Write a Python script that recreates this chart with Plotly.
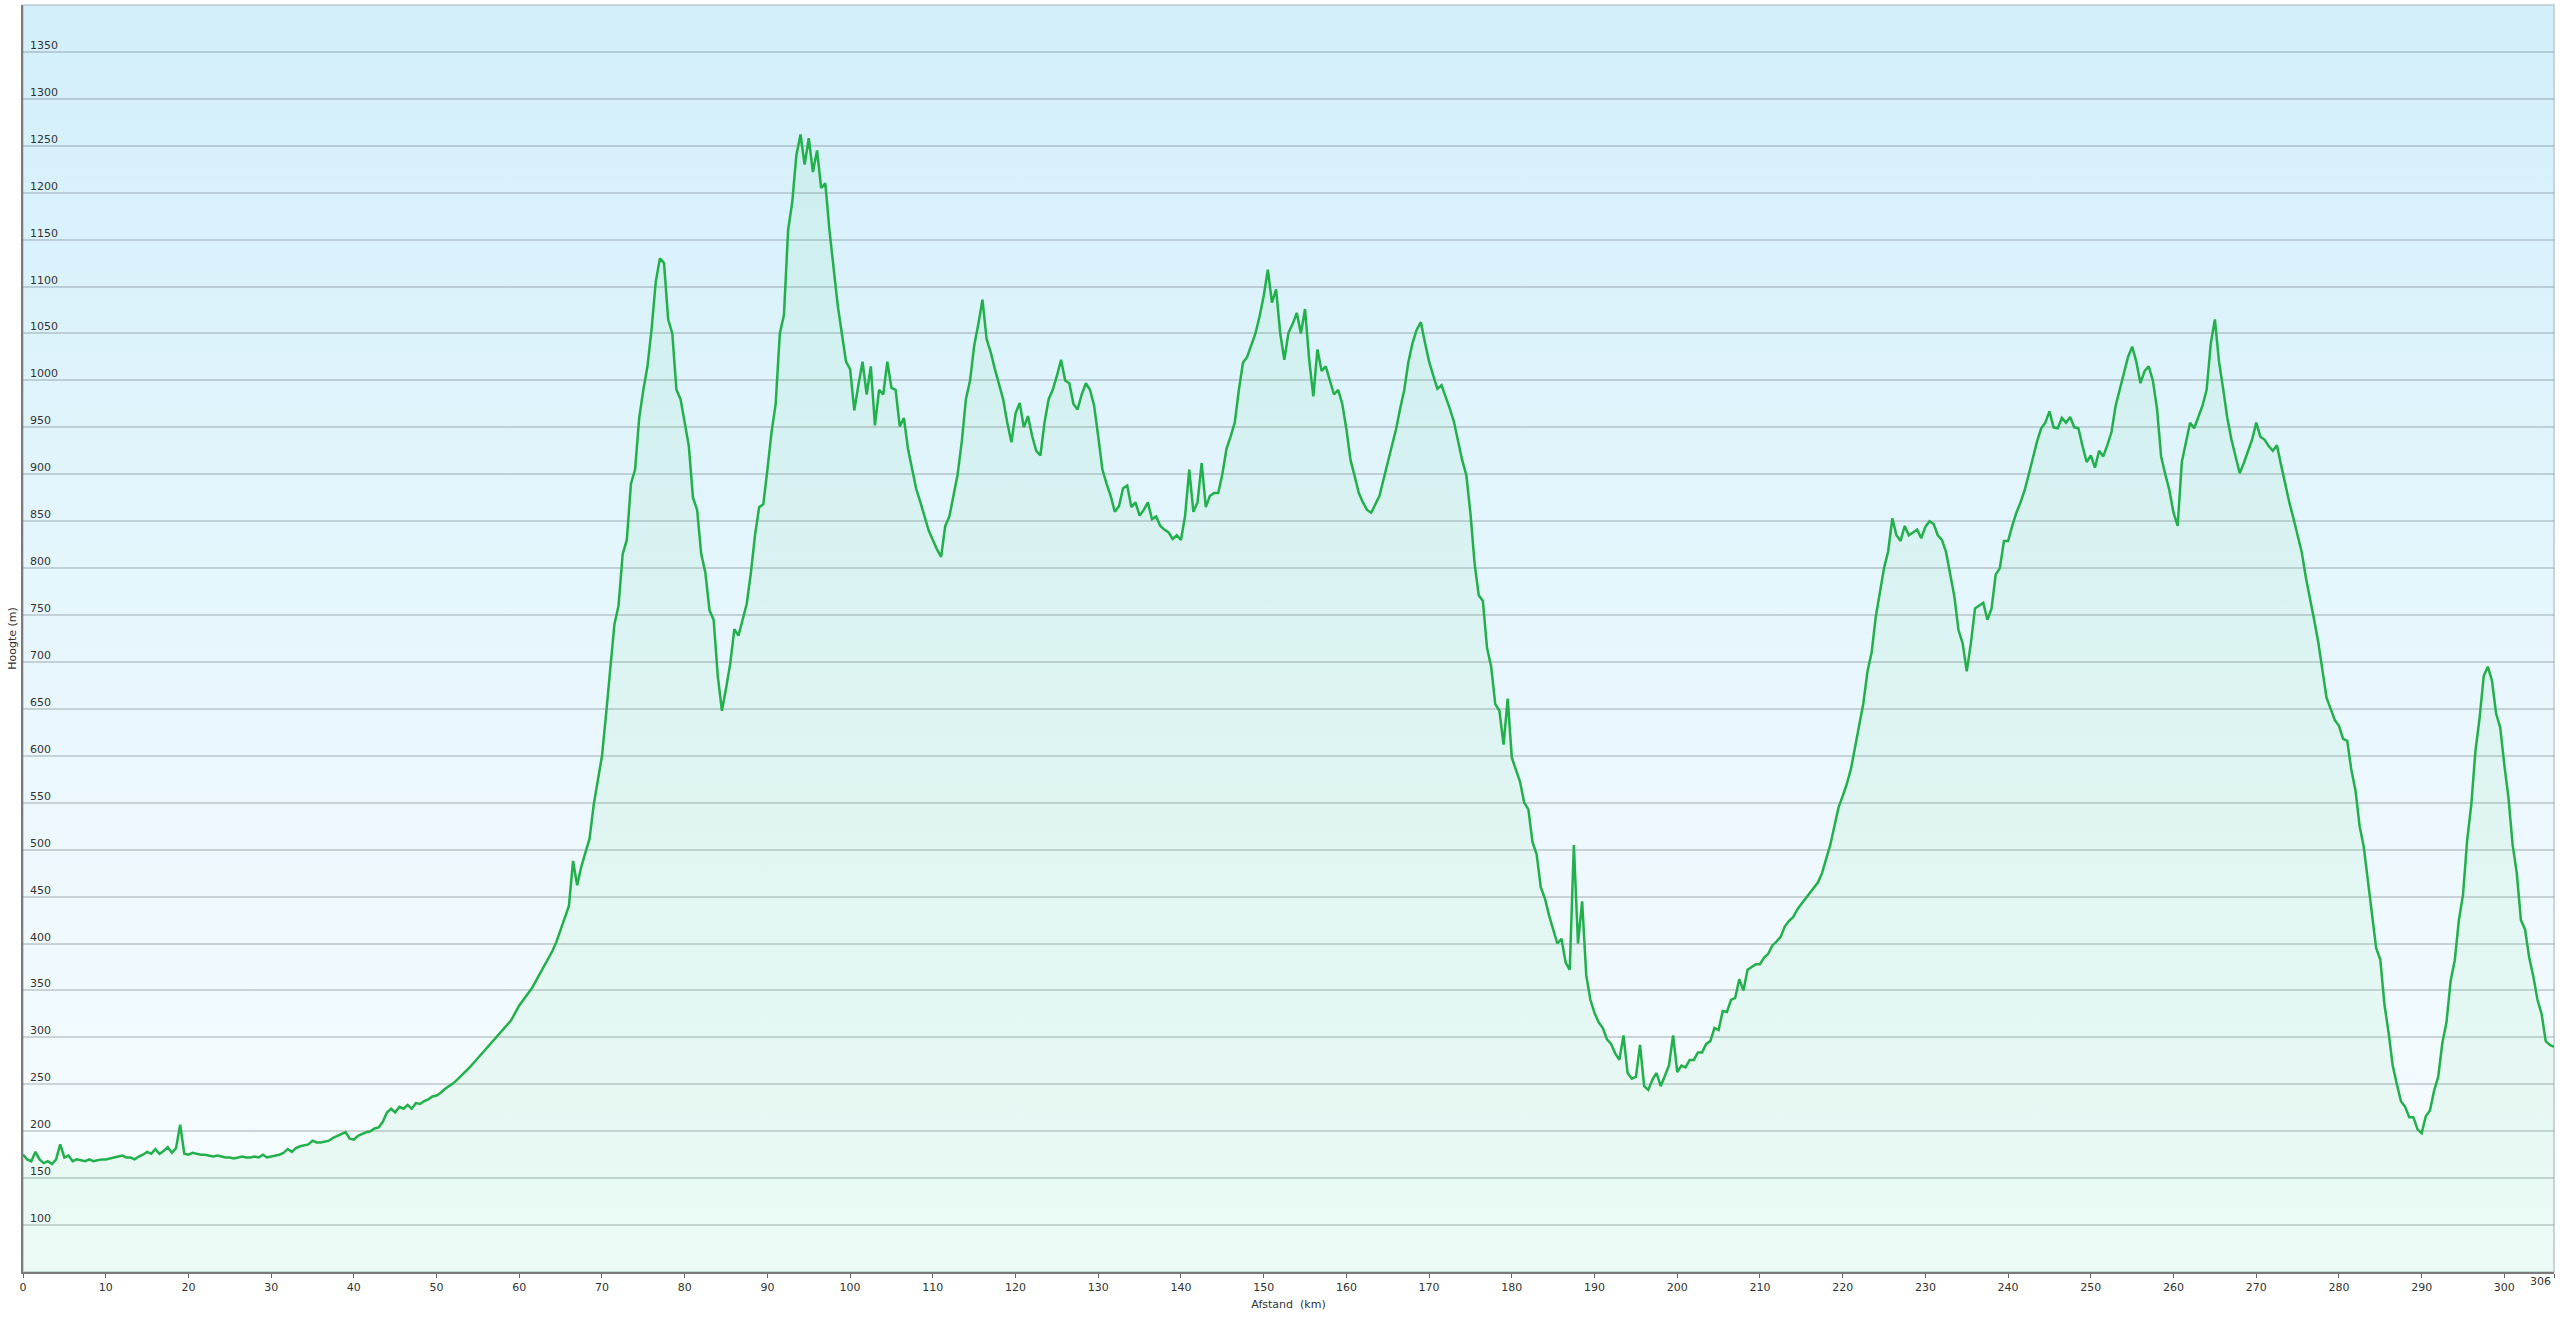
import base64

import numpy as np
import plotly.graph_objects as go

# hoogteprofiel, een waarde per 0,5 km (m)
hoogte_000_050 = [
    175, 170, 168, 178, 170, 166, 168, 165, 170, 186, 172, 174, 168, 170, 169, 168, 170, 168, 169, 170,
    170, 171, 172, 173, 174, 172, 172, 170, 173, 175, 178, 176, 181, 176, 179, 183, 177, 182, 207, 176,
    175, 177, 176, 175, 175, 174, 173, 174, 173, 172, 172, 171, 172, 173, 172, 172, 173, 172, 175, 172,
    173, 174, 175, 177, 181, 178, 182, 184, 185, 186, 190, 188, 188, 189, 190, 193, 195, 197, 199, 192,
    191, 195, 197, 199, 200, 203, 204, 210, 220, 224, 220, 226, 224, 228, 224, 230, 229, 232, 234, 237,
]
hoogte_050_100 = [
    238, 241, 245, 248, 251, 255, 259, 264, 268, 273, 278, 283, 287, 292, 297, 302, 307, 313, 318, 326,
    334, 340, 346, 352, 360, 368, 376, 384, 392, 402, 414, 428, 440, 488, 462, 482, 498, 512, 548, 572,
    600, 645, 695, 740, 760, 815, 830, 890, 905, 960, 990, 1015, 1055, 1105, 1130, 1125, 1065, 1050, 990, 980,
    955, 930, 875, 862, 815, 795, 755, 745, 685, 648, 672, 698, 735, 728, 745, 762, 795, 835, 865, 868,
    905, 945, 975, 1050, 1070, 1160, 1190, 1240, 1262, 1230, 1258, 1222, 1245, 1205, 1210, 1160, 1120, 1080, 1050, 1020,
]
hoogte_100_150 = [
    1012, 968, 995, 1020, 985, 1015, 952, 990, 985, 1020, 992, 990, 951, 960, 927, 905, 884, 870, 856, 840,
    830, 820, 812, 845, 855, 877, 900, 935, 980, 1000, 1037, 1060, 1086, 1044, 1030, 1012, 995, 980, 955, 934,
    965, 976, 950, 962, 941, 925, 920, 955, 980, 990, 1005, 1022, 1000, 997, 975, 969, 985, 997, 990, 973,
    940, 905, 890, 877, 860, 866, 885, 888, 865, 870, 856, 862, 870, 852, 855, 845, 841, 838, 831, 835,
    830, 856, 905, 860, 870, 912, 865, 877, 880, 880, 900, 927, 940, 955, 990, 1019, 1025, 1037, 1050, 1068,
]
hoogte_150_200 = [
    1090, 1118, 1083, 1097, 1050, 1022, 1051, 1060, 1072, 1050, 1076, 1022, 983, 1033, 1010, 1015, 1001, 985, 990, 975,
    948, 915, 898, 880, 870, 862, 859, 868, 877, 895, 912, 930, 948, 970, 990, 1020, 1040, 1054, 1062, 1040,
    1020, 1005, 991, 995, 983, 970, 956, 935, 915, 899, 858, 805, 771, 765, 715, 695, 655, 648, 612, 661,
    598, 585, 572, 550, 543, 508, 495, 460, 448, 430, 415, 400, 405, 380, 372, 505, 400, 445, 366, 340,
    326, 316, 310, 298, 293, 283, 276, 302, 262, 256, 258, 292, 248, 244, 255, 262, 248, 258, 270, 302,
]
hoogte_200_250 = [
    263, 270, 268, 276, 276, 284, 284, 293, 296, 310, 308, 328, 327, 340, 342, 362, 350, 372, 375, 378,
    378, 385, 389, 398, 402, 407, 418, 424, 428, 436, 442, 448, 453, 460, 465, 475, 490, 505, 525, 545,
    557, 570, 586, 610, 630, 656, 690, 710, 748, 775, 800, 818, 853, 835, 829, 845, 835, 838, 841, 832,
    844, 850, 847, 835, 830, 817, 795, 770, 734, 720, 690, 720, 757, 760, 763, 745, 757, 793, 800, 829,
    829, 845, 859, 870, 883, 900, 919, 935, 949, 955, 967, 950, 949, 960, 955, 961, 950, 949, 930, 913,
]
hoogte_250_306 = [
    920, 907, 925, 919, 931, 945, 973, 990, 1009, 1025, 1036, 1020, 997, 1010, 1015, 1000, 970, 919, 900, 883,
    859, 845, 913, 935, 955, 949, 960, 973, 990, 1039, 1065, 1020, 991, 960, 937, 920, 901, 912, 925, 937,
    955, 940, 937, 930, 925, 931, 910, 889, 870, 853, 835, 817, 790, 769, 745, 721, 690, 662, 650, 638,
    632, 618, 616, 585, 563, 525, 503, 465, 433, 395, 383, 335, 305, 270, 250, 232, 226, 215, 215, 202,
    198, 216, 222, 243, 258, 294, 316, 360, 382, 425, 452, 510, 548, 605, 640, 685, 695, 680, 645, 630,
    590, 555, 505, 475, 425, 415, 385, 365, 340, 325, 296, 292, 290,
]

hoogte = (hoogte_000_050 + hoogte_050_100 + hoogte_100_150
          + hoogte_150_200 + hoogte_200_250 + hoogte_250_306)
afstand = np.arange(len(hoogte)) * 0.5

totale_afstand = 306
x_ticks = list(range(0, 301, 10)) + [totale_afstand]
# het eindlabel wordt apart (rechts uitgelijnd) geplaatst
x_ticktext = [str(v) for v in range(0, 301, 10)] + [""]
y_ticks = list(range(100, 1351, 50))

# achtergrond: verloop van lichtblauw naar bijna wit
svg = (
    '<svg xmlns="http://www.w3.org/2000/svg" width="10" height="100" '
    'viewBox="0 0 10 100" preserveAspectRatio="none">'
    '<defs><linearGradient id="g" x1="0" y1="0" x2="0" y2="1">'
    '<stop offset="0" stop-color="#d2effa"/>'
    '<stop offset="0.55" stop-color="#e9f7fd"/>'
    '<stop offset="1" stop-color="#f8fdff"/>'
    '</linearGradient></defs>'
    '<rect width="10" height="100" fill="url(#g)"/></svg>'
)
bg_src = "data:image/svg+xml;base64," + base64.b64encode(svg.encode()).decode()

FONT = "DejaVu Sans, Verdana, sans-serif"

fig = go.Figure()
fig.add_trace(go.Scatter(
    x=afstand, y=hoogte,
    mode="lines",
    line=dict(color="#22b04b", width=2.5),
    fill="tozeroy",
    fillcolor="rgba(90,220,120,0.08)",
    hoverinfo="x+y",
    showlegend=False,
))

# y-labels staan binnen de grafiek, net boven de rasterlijn
labels = [
    dict(x=0, xref="paper", y=v, yref="y", text=str(v),
         xanchor="left", yanchor="bottom", xshift=5, yshift=-2,
         showarrow=False, font=dict(size=11, color="#333333"))
    for v in y_ticks
]
labels.append(dict(
    x=totale_afstand, xref="x", y=0, yref="paper", text=str(totale_afstand),
    xanchor="right", yanchor="top", xshift=-1, yshift=-1,
    showarrow=False, font=dict(size=11, color="#333333"),
))

fig.update_layout(
    width=2560, height=1317,
    paper_bgcolor="white",
    plot_bgcolor="rgba(0,0,0,0)",
    margin=dict(l=23, r=6, t=5, b=45),
    font=dict(family=FONT, size=11, color="#333333"),
    images=[dict(
        source=bg_src, xref="paper", yref="paper",
        x=0, y=1, sizex=1, sizey=1,
        xanchor="left", yanchor="top",
        sizing="stretch", layer="below",
    )],
    shapes=[dict(
        type="rect", xref="paper", yref="paper",
        x0=0, y0=0, x1=1, y1=1,
        line=dict(color="#b9cad1", width=1.5),
        layer="below",
    )],
    annotations=labels,
    xaxis=dict(
        range=[0, totale_afstand],
        tickvals=x_ticks,
        ticktext=x_ticktext,
        ticks="outside", ticklen=4, tickwidth=1, tickcolor="#666666",
        showline=True, linecolor="#7a7a7a", linewidth=2,
        showgrid=False, zeroline=False,
        tickfont=dict(size=11, color="#333333"),
        title=dict(text="Afstand  (km)", font=dict(size=11), standoff=7),
    ),
    yaxis=dict(
        range=[50, 1400],
        tickvals=y_ticks,
        showticklabels=False,
        ticks="",
        showline=True, linecolor="#7a7a7a", linewidth=2,
        showgrid=True, gridcolor="rgba(100,112,118,0.28)", gridwidth=1.5,
        zeroline=False,
        title=dict(text="Hoogte (m)", font=dict(size=11), standoff=2),
    ),
)

fig.write_html(
    "out.html",
    config={"displayModeBar": False},
    post_script="document.body.style.margin='0';",
)
